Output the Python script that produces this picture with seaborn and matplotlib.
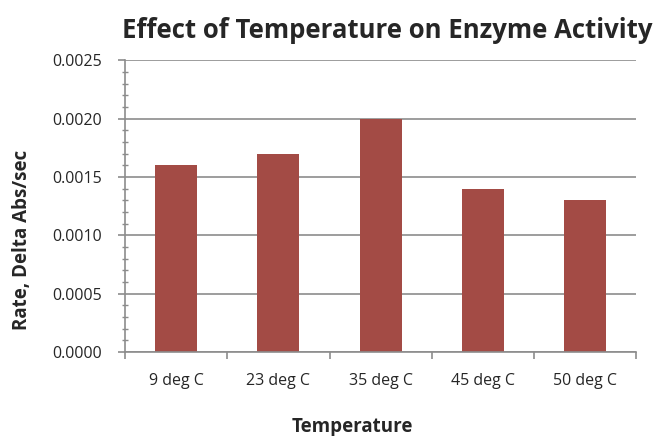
import matplotlib
matplotlib.use("Agg")
import matplotlib.pyplot as plt
import seaborn as sns
from matplotlib.ticker import MultipleLocator, FormatStrFormatter

# data
temps = ["9 deg C", "23 deg C", "35 deg C", "45 deg C", "50 deg C"]
rates = [0.0016, 0.0017, 0.0020, 0.0014, 0.0013]

sns.set_style("white")
plt.rcParams["font.family"] = ["Open Sans", "DejaVu Sans"]

fig = plt.figure(figsize=(6.62, 4.36), dpi=100)
ax = fig.add_axes([0.189, 0.193, 0.772, 0.669])

sns.barplot(x=temps, y=rates, color="#A34B45", saturation=1, width=0.41,
            linewidth=0, ax=ax)

ax.set_ylim(0, 0.0025)
ax.set_xlim(-0.5, len(temps) - 0.5)
ax.yaxis.set_major_locator(MultipleLocator(0.0005))
ax.yaxis.set_minor_locator(MultipleLocator(0.0001))
ax.yaxis.set_major_formatter(FormatStrFormatter("%.4f"))
ax.yaxis.grid(True, which="major", color="#8C8C8C", linewidth=1.2)
ax.set_axisbelow(True)

for s in ["top", "right"]:
    ax.spines[s].set_visible(False)
for s in ["left", "bottom"]:
    ax.spines[s].set_color("#8C8C8C")
    ax.spines[s].set_linewidth(1.2)

# category ticks sit between the bars, like Excel
ax.set_xticks([i + 0.5 for i in range(-1, len(temps))], minor=True)
ax.set_xticks(range(len(temps)))
ax.set_xticklabels(temps)
ax.tick_params(axis="x", which="major", length=0, pad=15, labelsize=11.5)
ax.tick_params(axis="x", which="minor", bottom=True, length=5, color="#8C8C8C", width=1.2)
ax.tick_params(axis="y", which="major", left=True, length=5, color="#8C8C8C", width=1.2, labelsize=11.5, pad=12)
ax.tick_params(axis="y", which="minor", left=True, direction="inout", length=5, color="#8C8C8C", width=1)

ax.set_xlabel("Temperature", fontsize=13.5, fontweight="bold")
ax.set_ylabel("Rate, Delta Abs/sec", fontsize=13.5, fontweight="bold")
ax.xaxis.set_label_coords(0.444, -0.225)
ax.yaxis.set_label_coords(-0.182, 0.385)
fig.suptitle("Effect of Temperature on Enzyme Activity", x=0.585, y=0.96,
             fontsize=18.5, fontweight="bold")

fig.savefig("out.png", dpi=100)
